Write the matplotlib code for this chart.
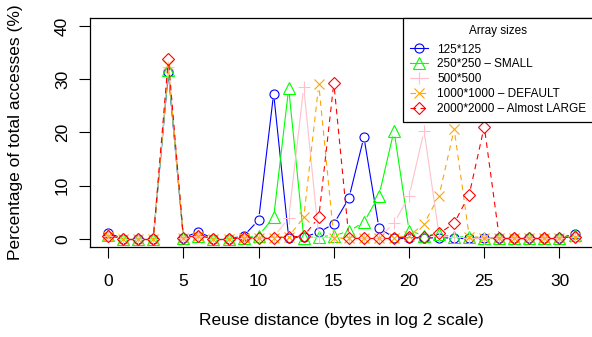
import numpy as np
import matplotlib
matplotlib.use("Agg")
import matplotlib.pyplot as plt
from matplotlib.collections import LineCollection
from matplotlib.lines import Line2D

plt.rcParams['font.family'] = ['Liberation Sans', 'DejaVu Sans']

# Reuse distance (log2 bytes)
distance = list(range(32))

# Percentage of total accesses per array size
s125 = [1.1, 0, 0, 0, 31.3, 0.2, 1.3, 0, 0, 0.5, 3.5, 27.3, 0.2, 0.3, 1.2, 2.8,
        7.6, 19.1, 2.0, 0.2, 0.2, 0.1, 0.2, 0.1, 0.1, 0.1, 0.1, 0.1, 0.1, 0.1, 0.1, 0.9]
s250 = [0.7, 0, 0, 0, 31.8, 0.2, 0.6, 0, 0, 0.1, 0.6, 4.0, 28.3, 0.2, 0.4, 0.6,
        1.4, 3.1, 8.1, 20.3, 1.5, 0.6, 0.8, 0.4, 0.3, 0.2, 0.1, 0.1, 0.1, 0.1, 0.1, 0.7]
s500 = [0.6, 0, 0, 0, 32.3, 0.2, 0.6, 0, 0, 0.1, 0.2, 0.3, 3.9, 28.5, 0.3, 0.3,
        0.3, 0.2, 0.2, 2.9, 8.0, 20.3, 0.6, 0.3, 0.2, 0.2, 0.1, 0.1, 0.1, 0.1, 0.1, 0.4]
s1000 = [0.6, 0, 0, 0, 32.6, 0.2, 0.6, 0, 0, 0.1, 0.2, 0.2, 0.4, 4.0, 29.0, 0.2,
         0.2, 0.2, 0.2, 0.2, 0.5, 2.8, 8.1, 20.6, 0.4, 0.2, 0.1, 0.1, 0.1, 0.1, 0.1, 0.4]
s2000 = [0.6, 0, 0, 0, 33.8, 0.2, 0.6, 0, 0, 0.1, 0.2, 0.2, 0.3, 0.5, 4.0, 29.3,
         0.2, 0.2, 0.2, 0.2, 0.3, 0.3, 1.0, 2.9, 8.3, 21.1, 0.1, 0.1, 0.1, 0.1, 0.1, 0.4]

labels = ['125*125', '250*250 \u2013 SMALL', '500*500',
          '1000*1000 \u2013 DEFAULT', '2000*2000 \u2013 Almost LARGE']
series = [s125, s250, s500, s1000, s2000]
colors = ['blue', '#00FF00', 'pink', 'orange', 'red']
markers = ['o', '^', '+', 'x', 'D']
msizes = [6.5, 8.0, 8.0, 6.5, 6.2]
styles = ['solid', 'solid', 'solid', (0, (5, 4)), (0, (5, 4))]

fig = plt.figure(figsize=(5.92, 3.37), dpi=100)
ax = fig.add_axes([89.5 / 592, (337 - 247.2) / 337, 503.7 / 592, 229.7 / 337])
ax.set_xlim(-1.24, 32.24)
ax.set_ylim(-1.6, 41.6)

# R-like type="b": segments stop short of each point
gap = 6.0
for vals, c, m, ms, ls in zip(series, colors, markers, msizes, styles):
    pts = ax.transData.transform(np.column_stack([distance, vals]))
    segs = []
    for p, q in zip(pts[:-1], pts[1:]):
        d = q - p
        L = np.hypot(*d)
        if L > 2 * gap:
            u = d / L
            a = ax.transData.inverted().transform([p + gap * u, q - gap * u])
            segs.append(a)
    ax.add_collection(LineCollection(segs, colors=c, linewidths=0.8, linestyles=ls))
    ax.plot(distance, vals, linestyle='none', marker=m, markersize=ms,
            markerfacecolor='none', markeredgecolor=c, markeredgewidth=0.8)

ax.set_xticks(range(0, 31, 5))
ax.set_yticks(range(0, 41, 10))
ax.tick_params(axis='x', length=8, width=0.8, pad=11, labelsize=12.5)
ax.tick_params(axis='y', length=8, width=0.8, pad=6, labelsize=12.5, labelrotation=90)
for t in ax.get_yticklabels():
    t.set_va('center')
for s in ax.spines.values():
    s.set_linewidth(0.9)

ax.set_xlabel('Reuse distance (bytes in log 2 scale)', fontsize=12.5)
ax.set_ylabel('Percentage of total accesses (%)', fontsize=12.5)
ax.xaxis.set_label_coords(0.5, -0.321)
ax.xaxis.label.set_va('center')
ax.yaxis.set_label_coords(-0.146, 0.5)
ax.yaxis.label.set_va('center')

handles = [Line2D([], [], color=c, marker=m, markersize=ms, markerfacecolor='none',
                  markeredgewidth=0.8, linewidth=0.8, linestyle=ls)
           for c, m, ms, ls in zip(colors, markers, msizes, styles)]
leg = ax.legend(handles, labels, title='Array sizes', loc='upper right',
                bbox_to_anchor=(1.0, 1.0), borderaxespad=0, fontsize=8.5,
                title_fontsize=8.5, fancybox=False, framealpha=1,
                edgecolor='black', handlelength=1.5, labelspacing=0.25,
                handletextpad=0.8, borderpad=0.6)
leg.get_frame().set_linewidth(0.9)
leg._legend_box.sep = 5.0  # extra room below the title

fig.savefig('out.png', dpi=100)
